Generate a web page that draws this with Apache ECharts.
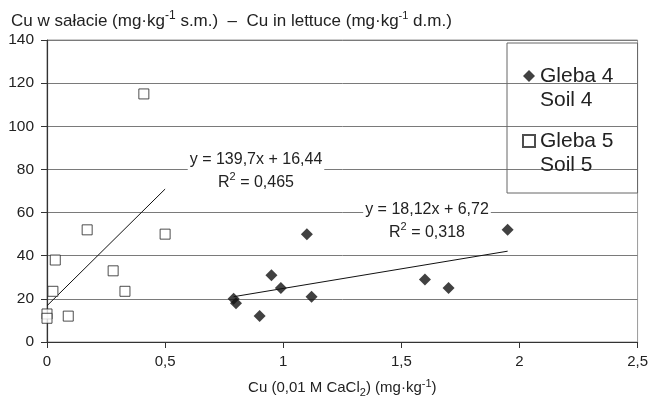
<!DOCTYPE html>
<html>
<head>
<meta charset="utf-8">
<script src="https://cdn.jsdelivr.net/npm/echarts@6/dist/echarts.min.js"></script>
<style>
html,body{margin:0;padding:0;background:#fff;}
#chart{width:651px;height:403px;}
</style>
</head>
<body>
<div id="chart"></div>
<script>
// ---- data ----
const gleba4X = [0.79, 0.80, 0.90, 0.95, 0.99, 1.10, 1.12, 1.60, 1.70, 1.95];
const gleba4Y = [20, 18, 12, 31, 25, 50, 21, 29, 25, 52];
const gleba5X = [0, 0, 0.025, 0.035, 0.09, 0.17, 0.28, 0.33, 0.41, 0.50];
const gleba5Y = [13, 11, 23.5, 38, 12, 52, 33, 23.5, 115, 50];
const trend4Ends = [21.0, 42.1];   // trend line values at min / max x (as drawn)
const trend5Ends = [16.8, 70.9];
const seriesNames = ['Gleba 4', 'Gleba 5'];
const seriesSub = ['Soil 4', 'Soil 5'];
const eq4 = ['y = 18,12x + 6,72', '0,318'];
const eq5 = ['y = 139,7x + 16,44', '0,465'];

const FONT = 'Liberation Sans, Arial, sans-serif';
const pts = (xs, ys) => xs.map((x, i) => [x, ys[i]]);
const trendLine = (xs, ends) => [[Math.min(...xs), ends[0]], [Math.max(...xs), ends[1]]];
const comma = v => String(v).replace('.', ',');

const chart = echarts.init(document.getElementById('chart'), null, {renderer: 'canvas'});
const supStyle = {fontSize: 11, fontFamily: FONT, color: '#222', verticalAlign: 'top', lineHeight: 14};

chart.setOption({
  animation: false,
  backgroundColor: '#fff',
  title: {
    text: 'Cu w sałacie (mg·kg{sup|-1} s.m.)  –  Cu in lettuce (mg·kg{sup2|-1} d.m.)',
    left: 11, top: 10,
    padding: 0,
    textStyle: {
      fontSize: 17, fontWeight: 'normal', color: '#222', fontFamily: FONT,
      rich: {
        sup: {fontSize: 12, fontFamily: FONT, color: '#222', verticalAlign: 'top', lineHeight: 22},
        sup2: {fontSize: 11, fontFamily: FONT, color: '#222', verticalAlign: 'top', lineHeight: 19}
      }
    }
  },
  grid: {left: 47, right: 12, top: 40, bottom: 61, show: true, borderColor: '#9a9a9a', borderWidth: 1},
  legend: {
    left: 507, top: 43,
    orient: 'vertical',
    itemWidth: 12, itemHeight: 12,
    itemGap: -7,
    padding: [-3, 24, 16, 15],
    borderColor: '#666', borderWidth: 1,
    data: seriesNames,
    formatter: name => ' \n' + name + '\n' + seriesSub[seriesNames.indexOf(name)],
    textStyle: {fontSize: 21, lineHeight: 24, color: '#222', fontFamily: FONT}
  },
  xAxis: {
    type: 'value', min: 0, max: 2.5, interval: 0.5,
    name: 'Cu (0,01 M CaCl{sub|2}) (mg·kg{sup|-1})',
    nameLocation: 'middle', nameGap: 36,
    nameTextStyle: {
      fontSize: 15, color: '#222', fontFamily: FONT,
      rich: {
        sub: {fontSize: 11, fontFamily: FONT, color: '#222', verticalAlign: 'bottom', lineHeight: 12, padding: [6, 0, 0, 0]},
        sup: {fontSize: 11, fontFamily: FONT, color: '#222', verticalAlign: 'top', lineHeight: 20}
      }
    },
    axisLine: {show: true, onZero: false, lineStyle: {color: '#333', width: 1.2}},
    axisTick: {show: true, inside: false, length: 6, lineStyle: {color: '#333'}},
    axisLabel: {fontSize: 15, color: '#222', fontFamily: FONT, margin: 12, formatter: v => comma(v)},
    splitLine: {show: false}
  },
  yAxis: {
    type: 'value', min: 0, max: 140, interval: 20,
    axisLine: {show: true, onZero: false, lineStyle: {color: '#333', width: 1.2}},
    axisTick: {show: true, inside: false, length: 6, lineStyle: {color: '#333'}},
    axisLabel: {fontSize: 15.5, color: '#222', fontFamily: FONT, margin: 13},
    splitLine: {show: true, lineStyle: {color: '#7a7a7a', width: 1}}
  },
  series: [
    {
      name: seriesNames[0], type: 'scatter', symbol: 'diamond', symbolSize: 12,
      itemStyle: {color: '#111'}, z: 5,
      data: pts(gleba4X, gleba4Y)
    },
    {
      name: seriesNames[1], type: 'scatter', symbol: 'rect', symbolSize: 10,
      itemStyle: {color: '#fff', borderColor: '#222', borderWidth: 1}, z: 5,
      data: pts(gleba5X, gleba5Y)
    },
    {
      name: 'trend4', type: 'line', data: trendLine(gleba4X, trend4Ends),
      symbol: 'none', lineStyle: {color: '#111', width: 1}, silent: true, z: 4
    },
    {
      name: 'trend5', type: 'line', data: trendLine(gleba5X, trend5Ends),
      symbol: 'none', lineStyle: {color: '#111', width: 1}, silent: true, z: 4
    }
  ],
  graphic: [
    {
      type: 'text', x: 256, y: 171, z: 10,
      style: {
        text: eq5[0] + '\nR{sup|2} = ' + eq5[1],
        align: 'center', verticalAlign: 'middle',
        font: '16px ' + FONT, fill: '#222', lineHeight: 23,
        backgroundColor: '#fff', padding: [0, 2],
        rich: {sup: supStyle}
      }
    },
    {
      type: 'text', x: 427, y: 221.5, z: 10,
      style: {
        text: eq4[0] + '\nR{sup|2} = ' + eq4[1],
        align: 'center', verticalAlign: 'middle',
        font: '16px ' + FONT, fill: '#222', lineHeight: 23,
        backgroundColor: '#fff', padding: [0, 2],
        rich: {sup: supStyle}
      }
    }
  ]
});
</script>
</body>
</html>
